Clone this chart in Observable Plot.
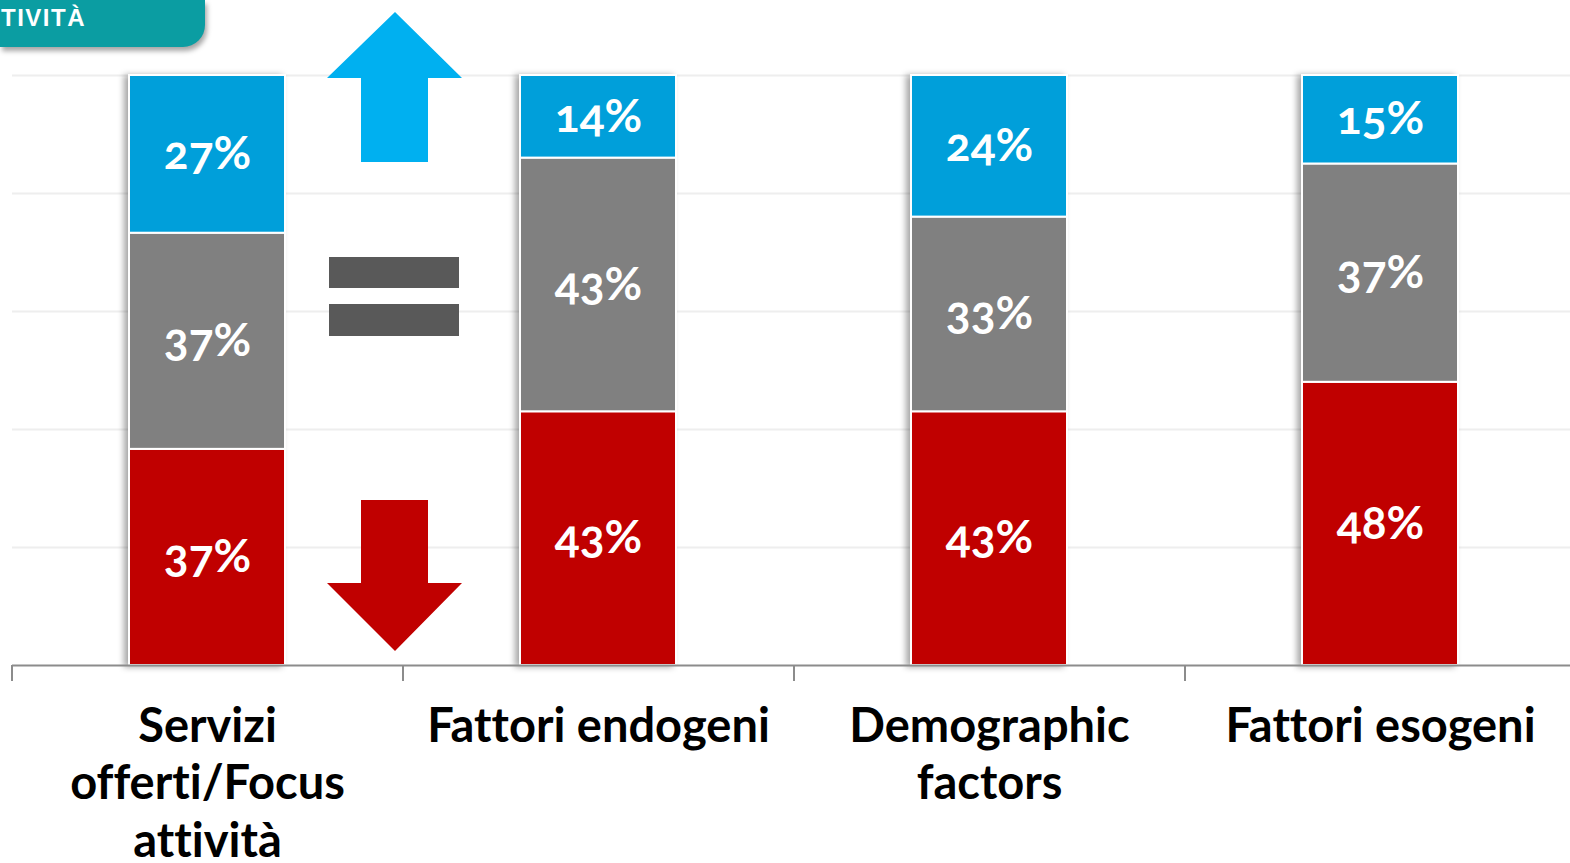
<!DOCTYPE html>
<html>
<head>
<meta charset="utf-8">
<script src="https://cdn.jsdelivr.net/npm/d3@7"></script>
<script src="https://cdn.jsdelivr.net/npm/@observablehq/plot@0.6"></script>
<style>
  html, body { margin: 0; padding: 0; background: #fff; overflow: hidden; }
  #wrap { position: relative; width: 1570px; height: 863px; }
  #tab { position: absolute; left: 0; top: 0; width: 205px; height: 47px; background: #0b9da2;
         border-bottom-right-radius: 22px; box-shadow: 2px 4px 5px rgba(0,0,0,0.35);
         color: #fff; font: bold 24px "Liberation Sans", Arial, sans-serif; letter-spacing: 1.5px;
         line-height: 36px; padding-left: 1px; box-sizing: border-box; z-index: 2; }
  #icons { position: absolute; left: 0; top: 0; pointer-events: none; z-index: 1; }
  #chart svg text { font-variant-numeric: oldstyle-nums; font-variant-ligatures: none; }
</style>
</head>
<body>
<div id="wrap">
  <div id="tab">TIVITÀ</div>
  <div id="chart"></div>
  <svg id="icons" width="1570" height="863">
    <polygon points="395,12 462,78 428,78 428,162 361,162 361,78 327,78" fill="#00b0f0"/>
    <rect x="329" y="257" width="130" height="31" fill="#595959"/>
    <rect x="329" y="304" width="130" height="32" fill="#595959"/>
    <polygon points="361,500 428,500 428,583 462,583 395,651 327,583 361,583" fill="#c00000"/>
  </svg>
</div>
<script>
const categories = ["Servizi offerti/Focus attività", "Fattori endogeni", "Demographic factors", "Fattori esogeni"];
const tickLabels = ["Servizi\nofferti/Focus\nattività", "Fattori endogeni", "Demographic\nfactors", "Fattori esogeni"];
const seriesNames = ["Diminuzione", "Invariato", "Aumento"];
const downValues = [37, 43, 43, 48];
const equalValues = [37, 43, 33, 37];
const upValues = [27, 14, 24, 15];
const seriesColors = ["#c00000", "#808080", "#009fda"];
const gridTicks = [0.2, 0.4, 0.6, 0.8, 1];

const seriesValues = [downValues, equalValues, upValues];
const rows = [];
categories.forEach((c, i) => {
  seriesNames.forEach((s, j) => rows.push({cat: c, series: s, value: seriesValues[j][i]}));
});

const xRange = [12, 1576];
const step = (xRange[1] - xRange[0]) / categories.length;

const chart = Plot.plot({
  width: 1570,
  height: 863,
  marginTop: 75,
  marginBottom: 198,
  marginLeft: 12,
  marginRight: 0,
  style: {fontFamily: "Lato, 'Open Sans', sans-serif", background: "transparent", overflow: "visible"},
  x: {domain: categories, range: xRange, paddingInner: 0.6, paddingOuter: 0.3, axis: null},
  y: {domain: [0, 1], axis: null},
  color: {domain: seriesNames, range: seriesColors},
  marks: [
    Plot.ruleY(gridTicks, {stroke: "#eeeeee", strokeWidth: 2}),
    Plot.barY(rows, Plot.stackY({offset: "normalize", order: seriesNames, x: "cat", y: "value", fill: "series", stroke: "white", strokeWidth: 2})),
    Plot.text(rows, Plot.stackY({offset: "normalize", order: seriesNames, x: "cat", y: "value", z: "series",
      text: d => d.value + "%", fill: "white", fontSize: 46, fontWeight: "bold"})),
    Plot.ruleY([0], {stroke: "#8c8c8c", strokeWidth: 2}),
    Plot.ruleX(categories, {x: d => d, y1: 0, y2: 0, dx: -step / 2, insetTop: 0, insetBottom: -16, stroke: "#8c8c8c", strokeWidth: 2}),
    Plot.text(categories, {x: d => d, y: 0, text: (d, i) => tickLabels[i], lineAnchor: "top", dy: 35,
      fontSize: 47, lineHeight: 1.23, fontWeight: "bold", fill: "black"})
  ]
});
d3.select(chart).selectAll("g[aria-label=bar]").style("filter", "drop-shadow(-4px 1px 3px rgba(0,0,0,0.35))");
document.getElementById("chart").appendChild(chart);
</script>
</body>
</html>
